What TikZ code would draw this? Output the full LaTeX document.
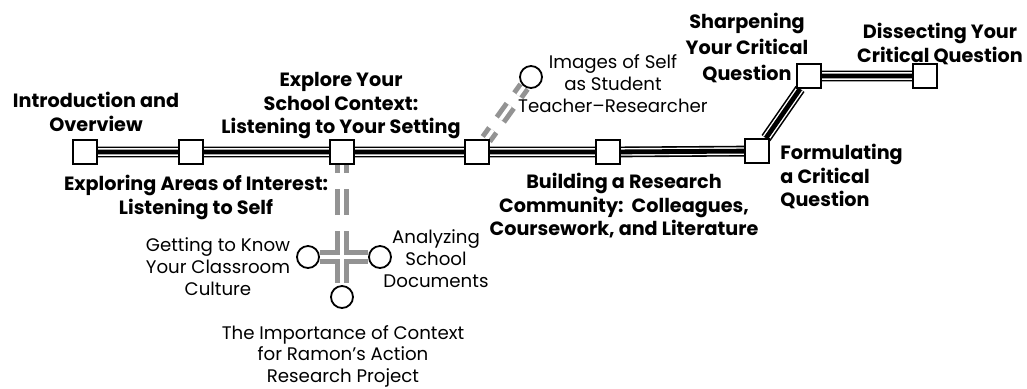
\documentclass[tikz,border=0pt]{standalone}
\usepackage{fontspec}
\setmainfont{Poppins}
\usetikzlibrary{backgrounds}
\tikzset{
  station/.style={draw, fill=white, line width=0.9pt, minimum size=12pt, inner sep=0pt},
  halt/.style={circle, draw, fill=white, line width=0.9pt, minimum size=11pt, inner sep=0pt},
  mainline/.style={draw=black, line width=2.4pt,
    preaction={draw=black, line width=5.4pt},
    preaction={draw=white, line width=3.8pt}},
  sideline/.style={draw=gray!85, line width=2.5pt, double=white, double distance=1.8pt,
    dash pattern=on 13pt off 8pt},
  bigtext/.style={font=\fontsize{9.6}{11.75}\selectfont\bfseries, align=center, inner sep=0pt},
  smalltext/.style={font=\fontsize{9.1}{11.1}\selectfont, align=center, inner sep=0pt},
}

\begin{document}
\begin{tikzpicture}[x=0.5pt, y=-0.5pt]
	\useasboundingbox (0,0) rectangle (1027,388);
	\node[station] (intro) at (85,152) {};
	\node[station] (areas) at (191,152) {};
	\node[station] (context) at (342,152) {};
	\node[station] (self) at (477,152) {};
	\node[station] (community) at (608,152) {};
	\node[station] (formulate) at (757,151) {};
	\node[station] (sharpen) at (809,76) {};
	\node[station] (dissect) at (925,76) {};
	\node[halt] (images) at (531,77) {};
	\node[halt] (culture) at (308,257) {};
	\node[halt] (documents) at (380,257) {};
	\node[halt] (ramon) at (342,297) {};
	\coordinate (cross) at (342,257);
	%
	\node[bigtext, anchor=north] (introtxt) at (96,92) {Introduction and\\Overview};
	\node[bigtext, anchor=north] (areastxt) at (196,175) {Exploring Areas of Interest:\\Listening to Self};
	\node[bigtext, anchor=north] (contexttxt) at (341,72) {Explore Your\\School Context:\\Listening to Your Setting};
	\node[bigtext, anchor=north] (communitytxt) at (624,173) {Building a Research\\Community:\ \ Colleagues,\\Coursework, and Literature};
	\node[bigtext, anchor=north west, align=left] (formulatetxt) at (780,144) {Formulating\\a Critical\\Question};
	\node[bigtext, anchor=north, font=\fontsize{9.6}{13}\selectfont\bfseries] (sharpentxt) at (747,13) {Sharpening\\Your Critical\\Question};
	\node[bigtext, anchor=north] (dissecttxt) at (940,23) {Dissecting Your\\Critical Question};
	\node[smalltext, anchor=north] (imagestxt) at (613,54) {Images of Self\\as Student\\Teacher--Researcher};
	\node[smalltext, anchor=north] (culturetxt) at (218,237) {Getting to Know\\Your Classroom\\Culture};
	\node[smalltext, anchor=north] (documentstxt) at (436,229) {Analyzing\\School\\Documents};
	\node[smalltext, anchor=north, font=\fontsize{9.1}{10.75}\selectfont] (ramontxt) at (343,325) {The Importance of Context\\for Ramon's Action\\Research Project};
	%
	\begin{scope}[on background layer]
		\draw[mainline] (intro) -- (areas) -- (context) -- (self) -- (community) -- (formulate) -- (sharpen) -- (dissect);
		\draw[sideline, dash pattern=on 8.5pt off 6.5pt, dash phase=3pt] (self) -- (images);
		\draw[sideline] (cross) -- (context) (cross) -- (culture) (cross) -- (documents) (cross) -- (ramon);
	\end{scope}
\end{tikzpicture}
\end{document}
